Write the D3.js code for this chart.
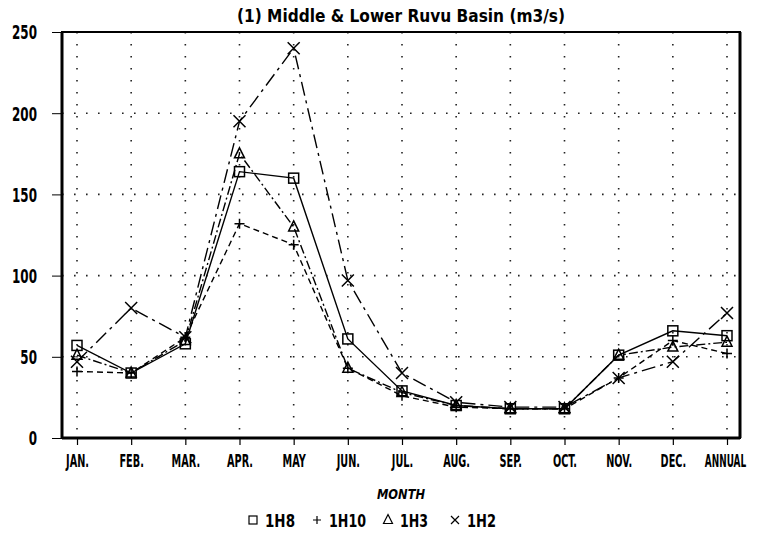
<!DOCTYPE html>
<html><head><meta charset="utf-8">
<script src="https://cdn.jsdelivr.net/npm/d3@7"></script>
<style>body{margin:0;background:#fff}svg{display:block}text{font-stretch:condensed}</style>
</head><body>
<svg id="chart" width="757" height="534"></svg>
<script>
const categories = ["JAN.","FEB.","MAR.","APR.","MAY","JUN.","JUL.","AUG.","SEP.","OCT.","NOV.","DEC.","ANNUAL"];
const s1H8  = [57, 40, 58, 164, 160, 61, 29, 20, 18, 18, 51, 66, 63];
const s1H10 = [41, 40, 62, 132, 119, 43, 26, 19, 18, 18, 37, 60, 52];
const s1H3  = [51, 40, 60, 175, 130, 43, 28, 20, 18, 18, 51, 56, 59];
const s1H2  = [47, 80, 62, 195, 240, 97, 40, 22, 19, 19, 37, 47, 77];
const yTicks = [0, 50, 100, 150, 200, 250];
const seriesNames = ["1H8", "1H10", "1H3", "1H2"];

const series = [
  {name: seriesNames[0], values: s1H8,  dash: null,           marker: "square"},
  {name: seriesNames[1], values: s1H10, dash: "6,4",          marker: "plus"},
  {name: seriesNames[2], values: s1H3,  dash: "9,3,2,3",      marker: "triangle"},
  {name: seriesNames[3], values: s1H2,  dash: "14,5,3,5",     marker: "cross"}
];

const font = "'DejaVu Sans Condensed','DejaVu Sans',sans-serif";
const svg = d3.select("#chart");
const L = 62, R = 740, T = 32, B = 438;
const x = d3.scalePoint().domain(categories).range([77, 727]);
const y = d3.scaleLinear().domain([0, 250]).range([B, T]);

// grid
const g = svg.append("g");
g.selectAll("line.vg").data(categories).join("line")
  .attr("x1", d => x(d)).attr("x2", d => x(d)).attr("y1", T).attr("y2", B)
  .attr("stroke", "#222").attr("stroke-width", 1.6).attr("stroke-dasharray", "1.6,10.4");
g.selectAll("line.hg").data(yTicks.filter(t => t > 0 && t < 250)).join("line")
  .attr("x1", L).attr("x2", R).attr("y1", d => y(d)).attr("y2", d => y(d))
  .attr("stroke", "#222").attr("stroke-width", 1.6).attr("stroke-dasharray", "1.6,10.4");

// frame
svg.append("rect").attr("x", L).attr("y", T).attr("width", R - L).attr("height", B - T)
  .attr("fill", "none").attr("stroke", "#000").attr("stroke-width", 2);
svg.append("line").attr("x1", L).attr("x2", L).attr("y1", T).attr("y2", B).attr("stroke", "#000").attr("stroke-width", 3);
svg.append("line").attr("x1", L).attr("x2", R).attr("y1", B).attr("y2", B).attr("stroke", "#000").attr("stroke-width", 3);
svg.append("line").attr("x1", R).attr("x2", R).attr("y1", T).attr("y2", B).attr("stroke", "#000").attr("stroke-width", 3);

// y axis
const ySq = 0.7;
const ya = svg.append("g").attr("transform", `translate(${L},0)`)
  .call(d3.axisLeft(y).tickValues(yTicks).tickSize(10).tickPadding(15).tickFormat(d3.format("d")));
ya.select(".domain").remove();
ya.selectAll("line").attr("stroke", "#000").attr("stroke-width", 1);
ya.selectAll("text").attr("font-family", font).attr("font-weight", "bold").attr("font-size", 19).attr("fill", "#000")
  .attr("dy", "0.36em").attr("x", -25 / ySq).attr("transform", `scale(${ySq},1)`);

// x axis
const xSq = 0.6;
const xa = svg.append("g").attr("transform", `translate(0,${B})`)
  .call(d3.axisBottom(x).tickSize(7).tickPadding(9));
xa.select(".domain").remove();
xa.selectAll("line").attr("stroke", "#000").attr("stroke-width", 1.2);
xa.selectAll("text").attr("font-family", font).attr("font-weight", "bold").attr("font-size", 18).attr("fill", "#000")
  .attr("transform", d => d === "ANNUAL" ? "translate(-2,0) scale(0.55,1)" : `scale(${xSq},1)`);

// lines
const line = d3.line().x((d, i) => x(categories[i])).y(d => y(d));
series.forEach(s => {
  svg.append("path").datum(s.values).attr("d", line)
    .attr("fill", "none").attr("stroke", "#000").attr("stroke-width", 1.4)
    .attr("stroke-dasharray", s.dash);
});

function marker(sel, type, cx, cy, sz) {
  const h = sz / 2;
  if (type === "square") {
    sel.append("rect").attr("x", cx - h).attr("y", cy - h).attr("width", sz).attr("height", sz)
      .attr("fill", "none").attr("stroke", "#000").attr("stroke-width", 1.5);
  } else if (type === "plus") {
    sel.append("path").attr("d", `M${cx - h},${cy}H${cx + h}M${cx},${cy - h}V${cy + h}`)
      .attr("stroke", "#000").attr("stroke-width", 1.5);
  } else if (type === "triangle") {
    sel.append("path").attr("d", `M${cx},${cy - h - 1}L${cx + h},${cy + h - 1}L${cx - h},${cy + h - 1}Z`)
      .attr("fill", "none").attr("stroke", "#000").attr("stroke-width", 1.5);
  } else {
    sel.append("path").attr("d", `M${cx - h},${cy - h}L${cx + h},${cy + h}M${cx + h},${cy - h}L${cx - h},${cy + h}`)
      .attr("stroke", "#000").attr("stroke-width", 1.5);
  }
}
series.forEach(s => {
  const mg = svg.append("g");
  s.values.forEach((v, i) => marker(mg, s.marker, x(categories[i]), y(v), s.marker === "cross" ? 12 : 10));
});

// title
svg.append("text").attr("x", 401).attr("y", 22).attr("text-anchor", "middle")
  .attr("font-family", font).attr("font-weight", "bold").attr("font-size", 17)
  .attr("textLength", 328).attr("lengthAdjust", "spacingAndGlyphs")
  .text("(1) Middle & Lower Ruvu Basin (m3/s)");

// x title
svg.append("text").attr("x", 401).attr("y", 499).attr("text-anchor", "middle")
  .attr("font-family", font).attr("font-weight", "bold").attr("font-style", "italic").attr("font-size", 14)
  .attr("textLength", 48).attr("lengthAdjust", "spacingAndGlyphs")
  .text("MONTH");

// legend
const lg = svg.append("g");
const legX = [253, 317, 388, 455];
const legW = [30, 37, 28, 29];
series.forEach((s, i) => {
  const mg = lg.append("g");
  marker(mg, s.marker, legX[i], 520, s.marker === "triangle" ? 9 : 8);
  mg.select("*").attr("stroke-width", 1.2);
  lg.append("text").attr("x", legX[i] + 12).attr("y", 527)
    .attr("font-family", font).attr("font-weight", "bold").attr("font-size", 17)
    .attr("textLength", legW[i]).attr("lengthAdjust", "spacingAndGlyphs").text(s.name);
});
</script>
</body></html>
